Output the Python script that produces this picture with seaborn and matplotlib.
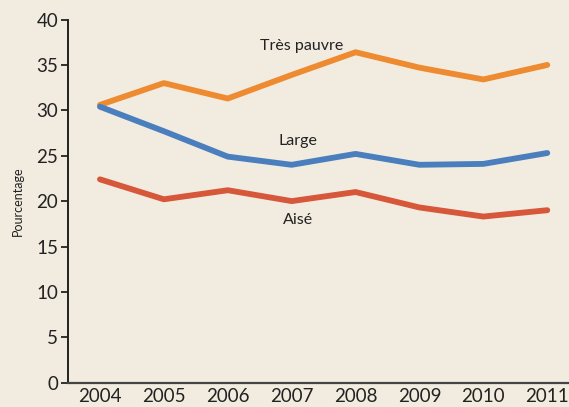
import matplotlib.pyplot as plt
import pandas as pd
import seaborn as sns

years = [2004, 2005, 2006, 2007, 2008, 2009, 2010, 2011]
tres_pauvre = [30.6, 33.0, 31.3, 33.9, 36.4, 34.7, 33.4, 35.0]
large = [30.4, 27.7, 24.9, 24.0, 25.2, 24.0, 24.1, 25.3]
aise = [22.4, 20.2, 21.2, 20.0, 21.0, 19.3, 18.3, 19.0]

series_names = ["Très pauvre", "Large", "Aisé"]
palette = {"Très pauvre": "#EE8A2F", "Large": "#4A7EBD", "Aisé": "#D6573A"}
bg = "#F2ECE0"

df = pd.DataFrame(
    {"année": years * 3,
     "valeur": tres_pauvre + large + aise,
     "série": [n for n in series_names for _ in years]}
)

sns.set_style("ticks")
plt.rcParams["font.family"] = ["Lato", "DejaVu Sans"]

fig = plt.figure(figsize=(5.69, 4.07), dpi=100, facecolor=bg)
ax = fig.add_axes([0.1195, 0.0597, 0.8805, 0.8923])
ax.set_facecolor(bg)

sns.lineplot(data=df, x="année", y="valeur", hue="série", palette=palette,
             linewidth=4.2, legend=False, ax=ax, solid_capstyle="round")

ax.set_xlim(2003.5, 2011.34)
ax.set_ylim(0, 40)
ax.set_xticks(years)
ax.set_yticks(range(0, 41, 5))
ax.tick_params(axis="y", length=5, width=1.3, color="#222222", labelsize=13.5,
               labelcolor="#222222", pad=2)
ax.tick_params(axis="x", length=0, labelsize=13.5, labelcolor="#222222", pad=4)
for side in ["top", "right"]:
    ax.spines[side].set_visible(False)
ax.spines["left"].set_color("#222222")
ax.spines["bottom"].set_color("#444444")
ax.spines["left"].set_linewidth(1.4)
ax.spines["bottom"].set_linewidth(1.6)

ax.set_xlabel("")
ax.set_ylabel("Pourcentage", fontsize=9, color="#222222", labelpad=9)

ax.text(2007.15, 37.05, "Très pauvre", fontsize=11.5, ha="center", va="center", color="#222222")
ax.text(2007.1, 26.6, "Large", fontsize=11.5, ha="center", va="center", color="#222222")
ax.text(2007.1, 17.95, "Aisé", fontsize=11.5, ha="center", va="center", color="#222222")

fig.savefig("out.png", dpi=100, facecolor=bg)
